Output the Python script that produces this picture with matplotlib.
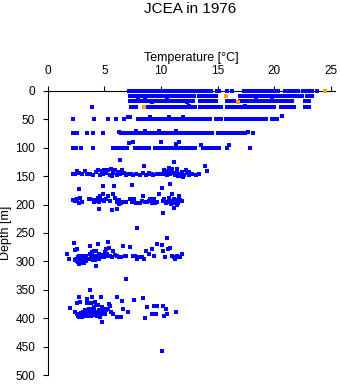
import numpy as np
import matplotlib
matplotlib.use("Agg")
import matplotlib.pyplot as plt

plt.rcParams['font.family'] = ['Liberation Sans', 'DejaVu Sans']

title = "JCEA in 1976"
xlabel = "Temperature [°C]"
ylabel = "Depth [m]"
x_ticks = [0, 5, 10, 15, 20, 25]
y_ticks = [0, 50, 100, 150, 200, 250, 300, 350, 400, 450, 500]

# Near-surface casts: one depth per row, temperatures along the row
depth_0m = 0
temp_0m = [7.2, 7.4, 7.55, 7.75, 7.95, 8.15, 8.3, 8.5, 8.7, 8.9, 9.1,
           9.4, 9.6, 9.8, 10.0, 10.2, 10.4, 10.6, 10.8, 11.0, 11.2, 11.4, 11.6,
           11.8, 12.0, 12.2, 12.4, 12.6, 12.8, 13.0, 13.2, 13.4, 13.6, 13.8,
           14.0, 14.2, 14.4, 14.9, 15.1, 15.8, 16.3,
           17.35, 17.55, 17.75, 17.95, 18.15, 18.35, 18.55, 18.75, 18.95,
           19.15, 19.35, 19.55, 19.75, 19.95, 20.15, 20.35,
           20.9, 21.1, 21.3, 21.5, 21.7, 21.9, 22.1,
           22.5, 22.7, 22.9, 23.1, 23.3, 23.8]

depth_10m = 9
temp_10m = [7.25, 7.45, 7.7, 7.85, 8.0, 8.2, 8.4,
            8.7, 8.9, 9.1, 9.3, 9.5, 9.7, 9.9, 10.1, 10.3, 10.5, 10.7, 10.9,
            11.1, 11.3, 11.5, 11.7, 11.9, 12.1, 12.3, 12.5, 12.7, 12.9,
            13.35, 13.55, 13.75, 13.95, 14.15, 14.35, 14.65, 14.85,
            17.0, 17.2, 17.4, 17.6, 17.8, 18.0, 18.2, 18.4, 18.6, 18.8, 19.0,
            19.2, 19.4, 19.6, 19.8, 20.0, 20.2, 20.4, 20.6, 20.8, 21.0, 21.2,
            21.4, 21.6, 21.8, 22.0, 22.2, 22.45, 22.85, 23.05, 23.3]

temp_20m = [7.3, 7.5, 7.65, 7.85, 8.05, 8.3, 8.5, 8.7, 8.9, 9.1, 9.3, 9.5,
            9.85, 10.05, 10.25, 10.45, 10.65, 10.85, 11.05, 11.25, 11.45,
            11.65, 11.85, 12.05, 12.25, 12.45, 12.65, 12.85,
            13.45, 13.65, 13.85, 14.05, 14.25, 14.45, 14.65, 14.85,
            15.8, 16.0, 16.2, 16.45,
            17.0, 17.2, 17.4, 17.6, 17.8, 18.0, 18.2, 18.4, 18.6, 18.8, 19.0,
            19.2, 19.4, 19.6, 19.8, 20.0, 20.2,
            20.6, 20.8, 21.0, 21.2, 21.4, 21.6, 22.7, 22.9, 23.05,
            8.0, 8.6, 9.2, 10.5, 12.3, 18.4, 19.8]
depth_20m = [18] * 66 + [16, 16, 20, 16, 20, 16, 16]

temp_30m = [3.95, 7.35, 7.55, 7.8,
            8.7, 8.9, 9.1, 9.3, 9.5, 9.7, 9.9, 10.1, 10.3, 10.5, 10.7, 10.9,
            11.1, 11.3, 11.5, 11.7, 11.9, 12.1, 12.3, 12.6, 12.8, 13.0,
            13.4, 13.6, 13.8, 14.0, 14.2, 14.4, 14.7, 14.9, 15.1, 15.3,
            15.8, 16.0, 16.2, 16.4,
            16.8, 17.0, 17.2, 17.4, 17.6, 17.8, 18.0, 18.2, 18.4, 18.6, 18.8,
            19.0, 19.2, 19.4, 19.6, 19.8, 20.0, 20.6, 20.8,
            21.1, 21.3, 21.5, 21.7, 22.7, 22.9, 23.1,
            12.5, 17.4]
depth_30m = [29] * 66 + [27, 27]

temp_50m = [2.2, 4.1, 5.35, 6.0, 6.7, 7.1, 7.25,
            8.0, 8.2, 8.4, 8.6, 8.8, 9.0, 9.2, 9.4, 9.6, 9.8, 10.0, 10.2, 10.4,
            10.6, 10.8, 11.0, 11.2, 11.4, 11.6, 11.8, 12.0, 12.2, 12.4, 12.6,
            12.8, 13.0, 13.2, 13.5, 13.7, 13.9, 14.1, 14.3, 14.85, 15.05, 15.25,
            15.7, 15.9, 16.1, 16.3, 16.5, 16.7, 16.9, 17.1, 17.3, 17.5,
            17.75, 17.95, 18.15, 18.35, 18.55, 18.75, 18.95, 19.15, 19.3,
            19.8, 20.0, 20.2, 20.65, 10.7, 11.9, 9.0]
depth_50m = [50] * 5 + [46, 46] + [50] * 57 + [44, 46, 46, 46]

temp_75m = [2.2, 2.35, 2.6, 3.5, 4.0, 4.9, 6.25, 6.5, 6.7, 6.9, 7.1, 7.3,
            7.5, 7.7, 7.9, 8.1, 8.3, 8.5, 8.7, 8.9, 9.1, 9.3,
            9.6, 9.8, 10.0, 10.2, 10.4, 10.6, 10.8, 11.0, 11.2, 11.4, 11.6,
            11.8, 12.0, 12.2, 12.5, 12.7, 12.9, 13.1, 13.3, 13.5, 13.7, 13.9,
            14.1, 14.3, 14.5, 15.05, 15.25, 15.45, 15.65, 15.85, 16.05, 16.25,
            16.45, 16.7, 17.0, 17.2, 17.4, 17.7, 18.15,
            7.8, 8.6, 9.8, 11.3]
depth_75m = [75] * 6 + [72] + [75] * 52 + [72, 75, 71, 71, 71, 71]

temp_100m = [2.2, 2.5, 2.95, 4.0, 5.8, 6.1, 6.4, 6.7, 7.0, 7.2,
             7.7, 7.9, 8.1, 8.3, 8.5, 8.7, 8.9, 9.45,
             9.6, 9.8, 10.0, 10.2, 10.4, 10.6, 10.8, 11.0, 11.2, 11.4, 11.6,
             11.8, 12.0, 12.2, 12.4, 12.6, 12.8, 13.0, 13.5, 13.7, 13.9, 14.1,
             14.3, 14.5, 14.7, 14.9, 15.1, 15.8, 16.0, 17.85,
             10.0, 11.6, 7.5, 11.3]
depth_100m = [100] * 9 + [92] + [100] * 26 + [95] + [100] * 9 + [95, 100,
              91, 91, 91, 93]

# Deeper casts: scattered (temperature, depth) readings
temp_150m = [2.25, 2.45, 2.6, 2.8, 3.0, 3.3, 3.75, 4.0, 4.3, 4.45, 4.6, 4.75,
             4.9, 5.15, 5.35, 5.5, 5.8, 5.95, 6.1, 6.4, 6.55, 6.7, 6.9, 7.2,
             7.5, 7.8, 8.1, 8.4, 8.7, 9.0, 9.3, 9.6, 9.9, 10.4, 10.5, 10.65,
             10.8, 10.95, 11.1, 11.25, 11.4, 11.55, 11.7, 11.85, 12.0, 12.3,
             12.45, 12.75, 13.05, 13.35, 14.05,
             5.0, 5.6, 6.2, 10.3, 10.7, 11.0, 11.4, 12.2, 12.5, 12.6, 9.2, 8.95,
             3.5, 7.0, 7.35, 5.65, 11.9, 11.5, 10.2,
             6.4, 8.5, 11.1, 13.9]
depth_150m = [147, 146, 141, 145, 147, 141, 146, 148, 143, 139, 148, 141,
              146, 144, 139, 148, 145, 140, 148, 146, 139, 145, 148, 146,
              148, 146, 148, 145, 148, 146, 148, 147, 146, 143, 148, 141,
              146, 138, 144, 148, 141, 146, 150, 143, 148, 144,
              148, 146, 148, 146, 141,
              140, 137, 142, 139, 136, 140, 137, 140, 143, 147, 147, 145,
              147, 146, 147, 149, 152, 150, 146,
              121, 132, 125, 132]

temp_200m = [2.2, 2.4, 2.6, 2.8, 2.85, 3.6, 3.75, 4.05, 4.25, 4.4, 4.55, 4.6,
             4.75, 4.9, 5.15, 5.35, 5.5, 5.65, 5.8, 5.95, 6.1, 6.25, 6.45,
             6.65, 6.8, 6.95, 7.25, 7.4, 7.55, 7.65, 8.15, 8.3, 8.45, 8.6,
             8.75, 8.9, 9.2, 9.4, 9.5, 9.6, 9.85, 10.2, 10.3, 10.5, 10.65,
             10.8, 10.95, 11.05, 11.1, 11.25, 11.4, 11.55, 11.7, 11.85,
             10.4, 10.9, 11.2, 11.5, 11.6, 10.7, 3.0, 4.1, 5.0, 6.3, 7.8, 9.0,
             4.5, 2.8, 4.9, 5.85, 7.4, 10.05, 10.8, 10.2, 11.1, 11.4, 6.1]
depth_200m = [192, 194, 191, 197, 188, 190, 191, 192, 194, 188, 207, 185,
              192, 182, 191, 185, 194, 210, 182, 188, 196, 192, 197,
              195, 196, 196, 191, 195, 194, 191, 197, 194, 185, 195,
              195, 193, 197, 191, 197, 195, 181, 194, 190, 195, 196,
              193, 181, 196, 191, 197, 195, 185, 192, 194,
              198, 199, 192, 198, 190, 188, 195, 196, 193, 199, 197, 190,
              196, 172, 168, 167, 165, 171, 164, 214, 206, 201, 207]

temp_250m = [7.9, 10.5]
depth_250m = [241, 258]

temp_300m = [1.7, 1.9, 2.3, 2.4, 2.55, 2.5, 2.6, 2.7, 2.8, 2.85, 2.95, 3.0,
             3.1, 3.15, 3.25, 3.3, 3.4, 3.45, 3.6, 3.7, 3.75, 3.8, 3.9, 3.95,
             4.05, 4.1, 4.15, 4.25, 4.3, 4.4, 4.45, 4.55, 4.6, 4.75, 4.9, 5.0,
             5.05, 5.15, 5.2, 5.25, 5.35, 5.45, 5.5, 5.65, 5.8, 5.95, 6.1,
             6.25, 6.45, 6.65, 6.8, 6.95, 7.25, 7.55, 7.7, 7.85, 8.0, 8.3,
             8.5, 8.7, 8.9, 9.2, 9.4, 9.6, 10.05, 10.2, 10.35, 10.65, 10.8,
             10.95, 11.1, 11.25, 11.4, 11.55, 11.7, 11.85,
             2.45, 2.65, 2.9, 3.05, 3.2, 2.75, 3.35, 4.0, 4.2, 4.5]
depth_300m = [287, 296, 268, 280, 279, 296, 299, 293, 291, 296, 299, 295,
              291, 296, 298, 293, 291, 296, 295, 272, 287, 291, 284, 293,
              281, 290, 295, 308, 281, 291, 270, 287, 293, 291, 289, 293,
              284, 278, 287, 291, 266, 277, 291, 293, 281, 289, 291,
              293, 293, 273, 291, 291, 274, 291, 290, 296, 293, 293,
              296, 282, 287, 278, 291, 270, 271, 282, 293, 278, 277,
              291, 293, 296, 291, 293, 293, 287,
              298, 301, 302, 299, 303, 304, 300, 298, 297, 295]

temp_400m = [1.97, 2.4, 2.55, 2.8, 2.85, 2.95, 3.0, 3.1, 3.15, 3.3, 3.4, 3.45,
             3.5, 3.6, 3.7, 3.75, 3.8, 3.9, 3.95, 4.05, 4.1, 4.2, 4.25, 4.3,
             4.4, 4.45, 4.55, 4.6, 4.7, 4.75, 4.78, 4.85, 4.95, 5.05, 5.15,
             5.2, 5.35, 5.45, 5.5, 5.6, 5.8, 6.1, 6.1, 6.45, 6.55, 6.65, 6.95,
             7.05, 7.65, 8.4, 8.55, 8.8, 9.2, 9.4, 9.55, 9.65, 10.2, 10.3,
             10.4, 10.55, 11.3, 10.1,
             2.6, 2.7, 2.9, 3.2, 3.35, 3.55, 3.85, 4.0, 4.15, 4.35, 4.5, 4.65,
             2.75, 3.65, 4.8, 5.0]
depth_400m = [382, 389, 373, 363, 372, 390, 398, 388, 392, 386, 394, 373,
              366, 383, 390, 350, 373, 383, 363, 386, 380, 371, 376, 388,
              392, 376, 385, 398, 363, 406, 380, 389, 383, 392, 386,
              383, 383, 375, 378, 388, 392, 363, 398, 398, 370, 383, 331,
              388, 368, 365, 400, 380, 392, 379, 392, 379, 378, 395,
              384, 392, 389, 457,
              392, 395, 393, 395, 390, 396, 395, 392, 394, 395, 389, 386,
              398, 388, 392, 387]

# A handful of readings flagged separately
flag_temp = [24.45, 15.75, 16.8, 8.5]
flag_depth = [0, 9, 19, 29]

blue = "#0000ff"
orange = "#ffa500"

fig = plt.figure(figsize=(3.41, 3.84), dpi=100)
ax = fig.add_axes([0.1399, 0.0227, 0.8425, 0.7411])

rows = [
    (temp_0m, [depth_0m] * len(temp_0m)),
    (temp_10m, [depth_10m] * len(temp_10m)),
    (temp_20m, depth_20m),
    (temp_30m, depth_30m),
    (temp_50m, depth_50m),
    (temp_75m, depth_75m),
    (temp_100m, depth_100m),
    (temp_150m, depth_150m),
    (temp_200m, depth_200m),
    (temp_250m, depth_250m),
    (temp_300m, depth_300m),
    (temp_400m, depth_400m),
]
for t, d in rows:
    ax.plot(t, d, ls="none", marker="s", ms=2.3, mew=0, color=blue,
            zorder=3, clip_on=False, antialiased=False)
ax.plot(flag_temp, flag_depth, ls="none", marker="s", ms=2.3, mew=0,
        color=orange, zorder=4, clip_on=False, antialiased=False)

ax.set_xlim(0, 25.35)
ax.set_ylim(500, 0)
ax.set_xticks(x_ticks)
ax.set_yticks(y_ticks)
ax.xaxis.set_ticks_position("top")
ax.xaxis.set_label_position("top")
ax.spines["right"].set_visible(False)
ax.spines["bottom"].set_visible(False)
for s in ("top", "left"):
    ax.spines[s].set_linewidth(0.8)
ax.tick_params(axis="x", length=3.6, width=0.8, labelsize=8.5, pad=6)
ax.tick_params(axis="y", length=3.6, width=0.8, labelsize=8.5, pad=5.5)
ax.set_xlabel(xlabel, fontsize=9, labelpad=3.5)
ax.set_ylabel(ylabel, fontsize=9, labelpad=2)

fig.text(190 / 341, 1 - 13.3 / 384, title, ha="center", va="baseline",
         fontsize=11)

fig.savefig("out.png", dpi=100)
